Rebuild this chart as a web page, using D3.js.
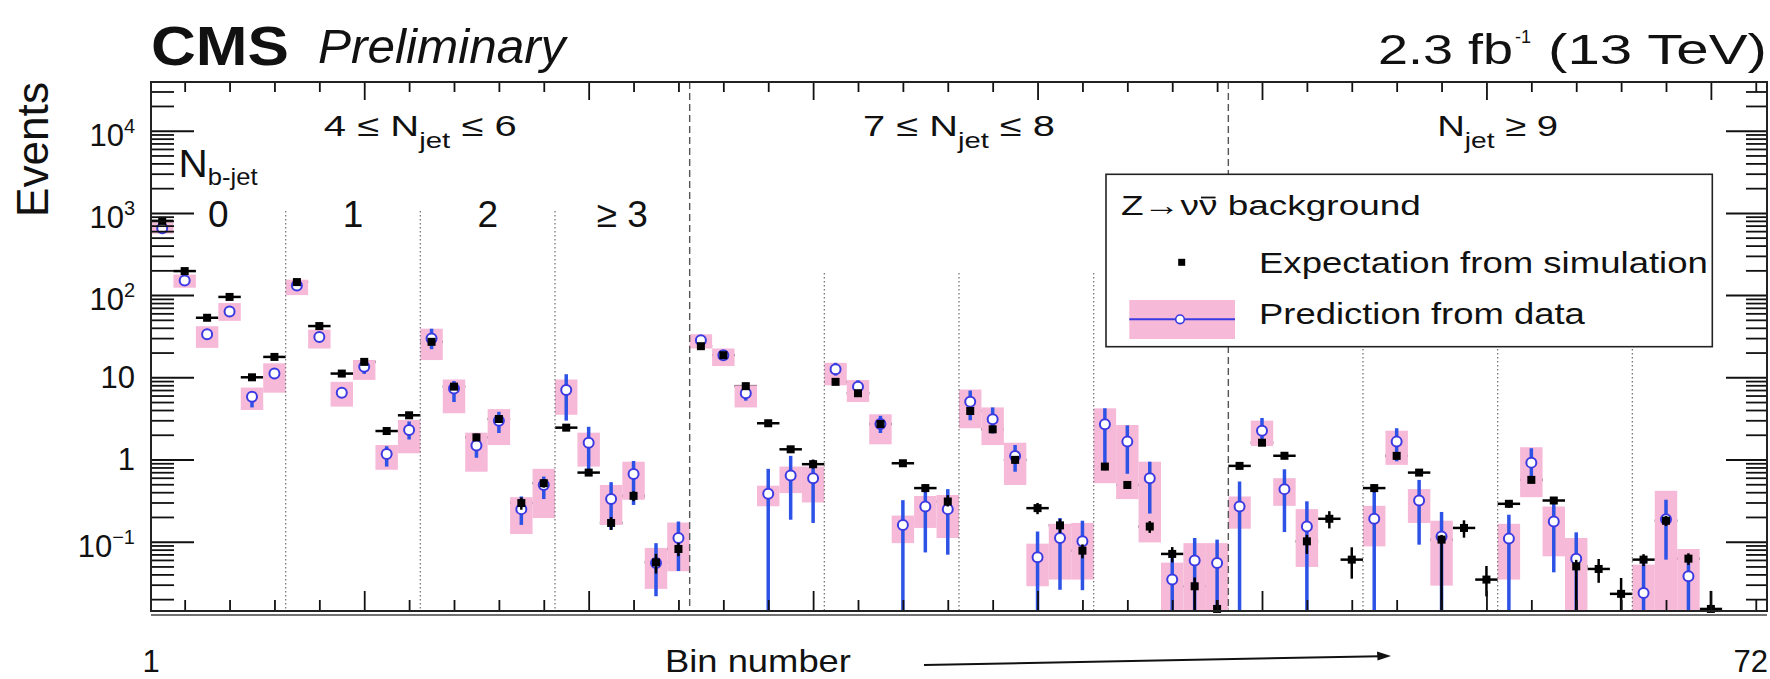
<!DOCTYPE html>
<html>
<head>
<meta charset="utf-8">
<script src="https://cdn.jsdelivr.net/npm/d3@7"></script>
<style>
  html, body { margin: 0; padding: 0; background: #fff; }
  svg { display: block; font-family: "Liberation Sans", Arial, Helvetica, sans-serif; }
</style>
</head>
<body>
<svg id="chart" width="1770" height="679"></svg>
<script>
// ---------------------------------------------------------------
// Z -> nu nubar background: 72 search bins
// ---------------------------------------------------------------
const bins = d3.range(1, 73);

// Expectation from simulation (black points) and its error band
const simulation = [
  800, 196, 53, 95, 10, 17.7,
  144, 42, 11.1, 15.4, 2.22, 3.45,
  27, 7.7, 1.86, 3.11, 0.295, 0.515,
  2.44, 0.693, 0.169, 0.361, 0.056, 0.0815,
  23.9, 18.6, 7.8, 2.76, 1.33, 0.877,
  8.8, 6.4, 2.7, 0.90, 0.449, 0.308,
  3.89, 2.33, 0.99, 0.256, 0.158, 0.0778,
  0.82, 0.49, 0.153, 0.071, 0.0287, 0.0152,
  0.836, 1.6, 1.11, 0.101, 0.19, 0.0605,
  0.449, 1.107, 0.693, 0.106, 0.147, 0.0346,
  0.289, 0.565, 0.317, 0.0501, 0.0466, 0.0232,
  0.0605, 0.18, 0.0622, 0.0152, null, null
];
const simulationLow = [
  740, 186, 50, 90, 9.4, 16.7,
  136, 39, 10.4, 14.4, 2.07, 3.2,
  25, 7.0, 1.71, 2.81, 0.245, 0.455,
  2.24, 0.633, 0.139, 0.311, 0.041, 0.0665,
  22.4, 17.4, 7.2, 2.51, 1.23, 0.777,
  8.2, 5.9, 2.45, 0.82, 0.399, 0.268,
  3.59, 2.13, 0.89, 0.216, 0.128, 0.0628,
  0.74, 0.44, 0.128, 0.056, 0, 0.012,
  0.766, 1.48, 1.01, 0.071, 0.145, 0.0355,
  0.399, 1.007, 0.633, 0, 0.112, 0.0216,
  0.259, 0.515, 0.287, 0, 0.0316, 0,
  0.0505, 0.155, 0.0522, 0, null, null
];
const simulationHigh = [
  880, 206, 56, 100, 10.6, 18.7,
  152, 45, 11.8, 16.9, 2.37, 3.75,
  29, 8.4, 2.06, 3.41, 0.345, 0.575,
  2.64, 0.753, 0.199, 0.411, 0.071, 0.0965,
  25.4, 19.8, 8.6, 3.01, 1.43, 0.997,
  9.4, 6.9, 3.0, 0.98, 0.499, 0.368,
  4.19, 2.53, 1.09, 0.296, 0.188, 0.0928,
  0.90, 0.54, 0.178, 0.086, 0.0367, 0.0195,
  0.906, 1.72, 1.21, 0.121, 0.235, 0.0855,
  0.499, 1.207, 0.753, 0.121, 0.182, 0.0506,
  0.319, 0.615, 0.347, 0.0601, 0.0616, 0.0362,
  0.0705, 0.205, 0.0722, 0.0252, null, null
];

// Prediction from data (open circles), statistical and systematic ranges
const prediction = [
  650, 151, 33.4, 63, 5.8, 11.1,
  131, 31, 6.5, 13.4, 1.17, 2.29,
  29.7, 7.3, 1.48, 2.97, 0.249, 0.49,
  7.0, 1.6, 0.33, 0.668, 0.055, 0.111,
  28.2, 18.6, 6.38, 0.383, 0.64, 0.59,
  12.5, 7.7, 2.7, 0.16, 0.268, 0.249,
  5.05, 3.08, 1.1, 0.0645, 0.111, 0.101,
  2.68, 1.65, 0.593, 0.0346, 0.0589, 0.055,
  0.268, 2.24, 0.436, 0.153, null, null,
  0.19, 1.65, 0.317, 0.116, null, null,
  0.109, 0.916, 0.176, 0.0622, null, null,
  0.0238, 0.188, 0.038, null, null, null
];
const predictionStatLow = [
  605, 140, 30, 58, 4.3, 9.5,
  122, 27, 5.7, 11.0, 0.82, 1.75,
  22, 5.0, 1.05, 2.1, 0.16, 0.33,
  2.97, 0.69, 0.14, 0.28, 0.0217, 0.044,
  25.5, 16.5, 5.2, 0, 0.185, 0.169,
  10.5, 6.5, 2.1, 0, 0.074, 0.0695,
  3.0, 2.07, 0.71, 0, 0.026, 0.0257,
  0.75, 0.67, 0.22, 0, 0, 0,
  0, 1.58, 0.131, 0, null, null,
  0, 0.95, 0.092, 0, null, null,
  0, 0.565, 0.0424, 0, null, null,
  0, 0.0605, 0, null, null, null
];
const predictionStatHigh = [
  700, 162, 37, 68, 6.6, 12.8,
  140, 35, 7.3, 15.5, 1.45, 2.9,
  39, 9.0, 1.95, 3.8, 0.355, 0.62,
  10.9, 2.5, 0.53, 0.96, 0.096, 0.176,
  31, 21, 7.6, 0.77, 1.107, 0.99,
  15, 9.2, 3.4, 0.32, 0.47, 0.436,
  6.9, 4.3, 1.5, 0.133, 0.194, 0.18,
  4.2, 2.6, 0.94, 0.066, 0.111, 0.106,
  0.54, 3.2, 0.76, 0.31, null, null,
  0.47, 2.4, 0.565, 0.23, null, null,
  0.213, 1.37, 0.324, 0.13, null, null,
  0.0555, 0.324, 0.066, null, null, null
];
const predictionSystLow = [
  560, 123, 22.8, 48.6, 4.0, 6.5,
  100, 22.4, 4.4, 9.3, 0.75, 1.19,
  16.2, 3.65, 0.71, 1.5, 0.124, 0.194,
  3.5, 0.82, 0.16, 0.324, 0.0267, 0.0437,
  22.4, 13.7, 4.3, 0.27, 0.39, 0.30,
  8.0, 5.0, 1.53, 0.096, 0.147, 0.111,
  2.4, 1.5, 0.49, 0.0287, 0.0346, 0.0346,
  0.515, 0.33, 0.098, 0, 0, 0,
  0.144, 1.46, 0.273, 0.0493, null, null,
  0.0877, 0.86, 0.169, 0.0292, null, null,
  0.0346, 0.348, 0.0664, 0, null, null,
  0, 0, 0, null, null, null
];
const predictionSystHigh = [
  760, 178, 41.8, 80, 7.5, 14.8,
  154, 38, 8.8, 16.2, 1.5, 3.03,
  39, 9.4, 2.12, 4.1, 0.348, 0.77,
  9.4, 2.12, 0.49, 0.94, 0.084, 0.171,
  33.4, 22.4, 8.0, 0.48, 0.82, 0.82,
  15.0, 9.25, 3.55, 0.208, 0.36, 0.37,
  7.1, 4.3, 1.6, 0.0946, 0.165, 0.169,
  4.19, 2.63, 0.94, 0.0556, 0.096, 0.096,
  0.355, 2.97, 0.593, 0.249, null, null,
  0.273, 2.24, 0.436, 0.18, null, null,
  0.165, 1.41, 0.268, 0.111, null, null,
  0.0526, 0.416, 0.0815, null, null, null
];

// Category structure: jet-multiplicity regions and b-jet sub-regions
const njetFirstBin = [1, 25, 49];
const njetLastBin = [24, 48, 72];
const njetLabelPre = ["4 \u2264 N", "7 \u2264 N", "N"];
const njetLabelSub = ["jet", "jet", "jet"];
const njetLabelPost = [" \u2264 6", " \u2264 8", " \u2265 9"];
const binsPerNb = 6;
const nbLabels = ["0", "1", "2", "\u2265 3"];

// Axis ranges and tick labels
const yRange = [0.01435, 39130];
const yMajorTicks = [0.1, 1, 10, 100, 1000, 10000];
const yTickBase = ["10", "1", "10", "10", "10", "10"];
const yTickExp = ["\u22121", "", "", "2", "3", "4"];
const xRange = [0.5, 72.5];
const xEndLabels = ["1", "72"];

// ---------------------------------------------------------------
const svg = d3.select("#chart");
const frame = { left: 151, right: 1767, top: 82, bottom: 611 };

const x = d3.scaleLinear().domain(xRange).range([frame.left, frame.right]);
const y = d3.scaleLog().domain(yRange).range([frame.bottom, frame.top]);
const bw = x(2) - x(1);
const yc = v => (v == null || v <= yRange[0]) ? frame.bottom : Math.max(frame.top, y(v));

const PINK = "#f6b9d8";
const BLUE_BAR = "#2d52e6";
const BLUE_MK = "#3a3ae2";

// stretch a text element horizontally so it spans [left, right]
function fitWidth(sel, left, right) {
  const bb = sel.node().getBBox();
  const k = (right - left) / bb.width;
  sel.attr("transform", `translate(${left},0) scale(${k},1) translate(${-bb.x},0)`);
  return sel;
}

const plot = svg.append("g");

// simulation horizontal bin bars (drawn first, under the prediction boxes)
plot.append("g").selectAll("line")
  .data(bins.filter(b => simulation[b - 1] != null))
  .join("line")
  .attr("x1", b => x(b - 0.5)).attr("x2", b => x(b + 0.5))
  .attr("y1", b => yc(simulation[b - 1])).attr("y2", b => yc(simulation[b - 1]))
  .attr("stroke", "#000").attr("stroke-width", 2.5);

// prediction systematic boxes
plot.append("g").selectAll("rect")
  .data(bins.filter(b => prediction[b - 1] != null))
  .join("rect")
  .attr("x", b => x(b - 0.5))
  .attr("width", bw)
  .attr("y", b => yc(predictionSystHigh[b - 1]))
  .attr("height", b => yc(predictionSystLow[b - 1]) - yc(predictionSystHigh[b - 1]))
  .attr("fill", PINK);

// region separators
const sep = plot.append("g");
njetLastBin.slice(0, 2).forEach(last => {
  sep.append("line")
    .attr("x1", x(last + 0.5)).attr("x2", x(last + 0.5))
    .attr("y1", frame.top).attr("y2", frame.bottom)
    .attr("stroke", "#555").attr("stroke-width", 1.4).attr("stroke-dasharray", "7,4");
});
njetFirstBin.forEach((first, g) => {
  const top = g === 0 ? 211 : 273;
  for (let k = 1; k < 4; k++) {
    const xs = x(first - 0.5 + k * binsPerNb);
    sep.append("line")
      .attr("x1", xs).attr("x2", xs).attr("y1", top).attr("y2", frame.bottom)
      .attr("stroke", "#777").attr("stroke-width", 1.3).attr("stroke-dasharray", "1.5,2.5");
  }
});

// prediction statistical error bars
plot.append("g").selectAll("line")
  .data(bins.filter(b => prediction[b - 1] != null))
  .join("line")
  .attr("x1", b => x(b)).attr("x2", b => x(b))
  .attr("y1", b => yc(predictionStatHigh[b - 1]))
  .attr("y2", b => yc(predictionStatLow[b - 1]))
  .attr("stroke", BLUE_BAR).attr("stroke-width", 3.5);

// prediction markers
plot.append("g").selectAll("circle")
  .data(bins.filter(b => prediction[b - 1] != null))
  .join("circle")
  .attr("cx", b => x(b)).attr("cy", b => yc(prediction[b - 1]))
  .attr("r", 5)
  .attr("fill", "#fff").attr("stroke", BLUE_MK).attr("stroke-width", 2);

// simulation vertical error bars
plot.append("g").selectAll("line")
  .data(bins.filter(b => simulation[b - 1] != null))
  .join("line")
  .attr("x1", b => x(b)).attr("x2", b => x(b))
  .attr("y1", b => yc(simulationHigh[b - 1]))
  .attr("y2", b => yc(simulationLow[b - 1]))
  .attr("stroke", "#000").attr("stroke-width", 2.5);

// simulation markers
plot.append("g").selectAll("rect")
  .data(bins.filter(b => simulation[b - 1] != null))
  .join("rect")
  .attr("x", b => x(b) - 4).attr("y", b => yc(simulation[b - 1]) - 4)
  .attr("width", 8).attr("height", 8)
  .attr("fill", "#000");

// ---------------------------------------------------------------
// axes: ticks on all four sides of the frame
const yMinor = [];
for (let e = -2; e <= 4; e++) {
  for (let m = 2; m <= 9; m++) {
    const v = m * Math.pow(10, e);
    if (v > yRange[0] && v < yRange[1]) yMinor.push(v);
  }
}
const xTickVals = d3.range(2, 73, 2);
const xLong = xTickVals.filter(v => v % 10 === 0);
const xShort = xTickVals.filter(v => v % 10 !== 0);

function styleAxis(g, w) {
  g.select(".domain").remove();
  g.selectAll(".tick text").remove();
  g.selectAll(".tick line").attr("stroke", "#111").attr("stroke-width", w);
}
const axes = svg.append("g");
axes.append("g").attr("transform", `translate(${frame.left},0)`)
  .call(d3.axisRight(y).tickValues(yMajorTicks).tickSize(43).tickFormat(""))
  .call(g => styleAxis(g, 2));
axes.append("g").attr("transform", `translate(${frame.left},0)`)
  .call(d3.axisRight(y).tickValues(yMinor).tickSize(23).tickFormat(""))
  .call(g => styleAxis(g, 1.8));
axes.append("g").attr("transform", `translate(${frame.right},0)`)
  .call(d3.axisLeft(y).tickValues(yMajorTicks).tickSize(41).tickFormat(""))
  .call(g => styleAxis(g, 2));
axes.append("g").attr("transform", `translate(${frame.right},0)`)
  .call(d3.axisLeft(y).tickValues(yMinor).tickSize(21).tickFormat(""))
  .call(g => styleAxis(g, 1.8));
axes.append("g").attr("transform", `translate(0,${frame.top})`)
  .call(d3.axisBottom(x).tickValues(xShort).tickSize(10).tickFormat(""))
  .call(g => styleAxis(g, 1.8));
axes.append("g").attr("transform", `translate(0,${frame.top})`)
  .call(d3.axisBottom(x).tickValues(xLong).tickSize(18).tickFormat(""))
  .call(g => styleAxis(g, 1.8));
axes.append("g").attr("transform", `translate(0,${frame.bottom})`)
  .call(d3.axisTop(x).tickValues(xShort).tickSize(11).tickFormat(""))
  .call(g => styleAxis(g, 1.8));
axes.append("g").attr("transform", `translate(0,${frame.bottom})`)
  .call(d3.axisTop(x).tickValues(xLong).tickSize(20).tickFormat(""))
  .call(g => styleAxis(g, 1.8));

axes.append("rect")
  .attr("x", frame.left).attr("y", frame.top)
  .attr("width", frame.right - frame.left).attr("height", frame.bottom - frame.top)
  .attr("fill", "none").attr("stroke", "#222").attr("stroke-width", 2);
axes.append("line")
  .attr("x1", frame.left).attr("x2", frame.right)
  .attr("y1", frame.bottom + 4).attr("y2", frame.bottom + 4)
  .attr("stroke", "#444").attr("stroke-width", 1.6);

// y tick labels (powers of ten)
yMajorTicks.forEach((v, i) => {
  const hasExp = yTickExp[i] !== "";
  const t = svg.append("text")
    .attr("x", 135).attr("y", y(v) + (hasExp ? 15 : 11))
    .attr("text-anchor", "end").attr("font-size", 31).attr("fill", "#111");
  t.append("tspan").text(yTickBase[i]);
  if (hasExp) t.append("tspan").attr("font-size", 20).attr("dy", -13).text(yTickExp[i]);
});

// ---------------------------------------------------------------
// region labels
njetFirstBin.forEach((first, g) => {
  const cx = x((first + njetLastBin[g]) / 2);
  const w = [193, 192, 121][g];
  const t = svg.append("text").attr("y", 136).attr("font-size", 30).attr("fill", "#111");
  t.append("tspan").text(njetLabelPre[g]);
  t.append("tspan").attr("font-size", 22).attr("dy", 12).text(njetLabelSub[g]);
  t.append("tspan").attr("dy", -12).text(njetLabelPost[g]);
  fitWidth(t, cx - w / 2, cx + w / 2);
});

const nbTitle = svg.append("text").attr("y", 176.7).attr("font-size", 38).attr("fill", "#111");
nbTitle.append("tspan").text("N");
nbTitle.append("tspan").attr("font-size", 24).attr("dy", 8.5).text("b-jet");
fitWidth(nbTitle, 178.6, 258);

nbLabels.forEach((lab, k) => {
  svg.append("text")
    .attr("x", x(njetFirstBin[0] + k * binsPerNb + (binsPerNb - 1) / 2))
    .attr("y", 226.7)
    .attr("text-anchor", "middle").attr("font-size", 37).attr("fill", "#111")
    .text(lab);
});

// ---------------------------------------------------------------
// legend
const leg = svg.append("g");
leg.append("rect")
  .attr("x", 1106).attr("y", 174.3).attr("width", 606.3).attr("height", 172.4)
  .attr("fill", "#fff").attr("stroke", "#222").attr("stroke-width", 1.6);

const legTitle = leg.append("g");
const ltText = legTitle.append("text").attr("x", 0).attr("y", 215)
  .attr("font-size", 28).attr("fill", "#111").text("Z\u2192\u03bd\u03bd background");
{
  const ext = ltText.node().getExtentOfChar(3);
  legTitle.append("line")
    .attr("x1", ext.x + 1.5).attr("x2", ext.x + ext.width - 1.5)
    .attr("y1", 215 - 17.5).attr("y2", 215 - 17.5)
    .attr("stroke", "#111").attr("stroke-width", 1.8);
  const bb = legTitle.node().getBBox();
  const k = (1421 - 1121) / bb.width;
  legTitle.attr("transform", `translate(1121,0) scale(${k},1) translate(${-bb.x},0)`);
}

leg.append("rect").attr("x", 1178.2).attr("y", 258.8).attr("width", 7).attr("height", 7).attr("fill", "#000");
fitWidth(leg.append("text").attr("y", 273.3).attr("font-size", 29).attr("fill", "#111")
  .text("Expectation from simulation"), 1259, 1708);

leg.append("rect").attr("x", 1129.3).attr("y", 300).attr("width", 105.7).attr("height", 39).attr("fill", PINK);
leg.append("line").attr("x1", 1129.3).attr("x2", 1235).attr("y1", 319.3).attr("y2", 319.3)
  .attr("stroke", BLUE_MK).attr("stroke-width", 2);
leg.append("circle").attr("cx", 1180).attr("cy", 319.3).attr("r", 4.3)
  .attr("fill", "#fff").attr("stroke", BLUE_MK).attr("stroke-width", 1.6);
fitWidth(leg.append("text").attr("y", 324).attr("font-size", 29).attr("fill", "#111")
  .text("Prediction from data"), 1259, 1586);

// ---------------------------------------------------------------
// titles
fitWidth(svg.append("text").attr("y", 65).attr("font-size", 56).attr("font-weight", "bold")
  .attr("fill", "#111").text("CMS"), 151, 289);
fitWidth(svg.append("text").attr("y", 63.3).attr("font-size", 49).attr("font-style", "italic")
  .attr("fill", "#111").text("Preliminary"), 318, 568);

fitWidth(svg.append("text").attr("y", 64).attr("font-size", 43).attr("fill", "#111").text("2.3 fb"), 1378, 1513);
fitWidth(svg.append("text").attr("y", 43).attr("font-size", 19).attr("fill", "#111").text("-1"), 1515, 1531);
fitWidth(svg.append("text").attr("y", 64).attr("font-size", 43).attr("fill", "#111").text("(13 TeV)"), 1548, 1767);

// y axis title
const evG = svg.append("g").attr("transform", "translate(48,217) rotate(-90)");
fitWidth(evG.append("text").attr("x", 0).attr("y", 0).attr("font-size", 44).attr("fill", "#111").text("Events"), 0, 135);

// x axis annotation (kept clear of the bottom edge)
svg.append("text").attr("x", x(1) - 11).attr("y", 672).attr("text-anchor", "middle")
  .attr("font-size", 31).attr("fill", "#111").text(xEndLabels[0]);
svg.append("text").attr("x", 1768).attr("y", 672).attr("text-anchor", "end")
  .attr("font-size", 31).attr("fill", "#111").text(xEndLabels[1]);
fitWidth(svg.append("text").attr("y", 672).attr("font-size", 31).attr("fill", "#111")
  .text("Bin number"), 665, 851);

svg.append("line").attr("x1", 924).attr("y1", 665).attr("x2", 1380).attr("y2", 656.2)
  .attr("stroke", "#111").attr("stroke-width", 2);
svg.append("path").attr("d", "M1391,656 L1377,651.5 L1377.5,660.5 Z").attr("fill", "#111");
</script>
</body>
</html>
